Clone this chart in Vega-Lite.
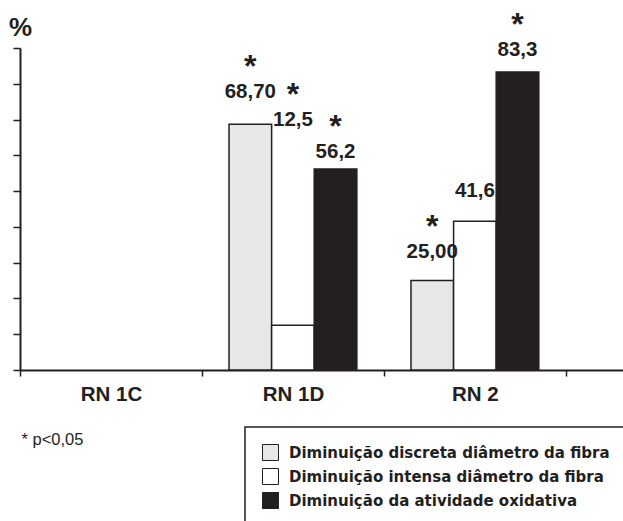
{
  "$schema": "https://vega.github.io/schema/vega-lite/v6.json",
  "width": 603,
  "height": 322,
  "autosize": {"type": "none"},
  "padding": {"left": 20, "top": 48, "right": 0, "bottom": 151},
  "background": "white",
  "config": {
    "view": {"stroke": null},
    "font": "Liberation Sans",
    "axisY": {
      "titleAngle": 0,
      "titleX": 0,
      "titleY": -13,
      "titleAlign": "center",
      "titleBaseline": "alphabetic",
      "titleFontSize": 26,
      "titleFontWeight": "bold",
      "titleColor": "#231f20",
      "labels": false,
      "grid": false,
      "tickSize": 7,
      "tickColor": "#231f20",
      "tickWidth": 1.5,
      "domainColor": "#231f20",
      "domainWidth": 2
    }
  },
  "data": {
    "values": [
      {"group": "RN 1D", "serie": "Diminuição discreta diâmetro da fibra", "value": 68.7, "label": "68,70", "sig": true, "label_level": 77.7},
      {"group": "RN 1D", "serie": "Diminuição intensa diâmetro da fibra", "value": 12.5, "label": "12,5", "sig": true, "label_level": 69.9},
      {"group": "RN 1D", "serie": "Diminuição da atividade oxidativa", "value": 56.2, "label": "56,2", "sig": true, "label_level": 61.0},
      {"group": "RN 2", "serie": "Diminuição discreta diâmetro da fibra", "value": 25.0, "label": "25,00", "sig": true, "label_level": 33.0},
      {"group": "RN 2", "serie": "Diminuição intensa diâmetro da fibra", "value": 41.6, "label": "41,6", "sig": false, "label_level": 50.0},
      {"group": "RN 2", "serie": "Diminuição da atividade oxidativa", "value": 83.3, "label": "83,3", "sig": true, "label_level": 89.4}
    ]
  },
  "encoding": {
    "x": {
      "field": "group",
      "type": "nominal",
      "scale": {"domain": ["RN 1C", "RN 1D", "RN 2"], "paddingInner": 0, "paddingOuter": 0.157, "align": 0},
      "axis": {
        "title": "* p<0,05",
        "labelAngle": 0,
        "labelFontSize": 20.5,
        "labelFontWeight": "bold",
        "labelColor": "#231f20",
        "labelPadding": 8,
        "tickBand": "extent",
        "tickSize": 6,
        "tickColor": "#231f20",
        "tickWidth": 1.5,
        "domainColor": "#231f20",
        "domainWidth": 2,
        "titleX": 1,
        "titleY": 74,
        "titleAlign": "left",
        "titleBaseline": "alphabetic",
        "titleFontWeight": "normal",
        "titleFontSize": 16.5,
        "titleColor": "#231f20"
      }
    },
    "xOffset": {
      "field": "serie",
      "type": "nominal",
      "scale": {
        "domain": ["Diminuição discreta diâmetro da fibra", "Diminuição intensa diâmetro da fibra", "Diminuição da atividade oxidativa"],
        "paddingInner": 0,
        "paddingOuter": 0.635
      }
    }
  },
  "layer": [
    {
      "mark": {"type": "bar", "stroke": "#231f20", "strokeWidth": 1.5},
      "encoding": {
        "y": {
          "field": "value",
          "type": "quantitative",
          "title": "%",
          "scale": {"domain": [0, 90], "nice": false},
          "axis": {"title": "%", "values": [0, 10, 20, 30, 40, 50, 60, 70, 80, 90]}
        },
        "fill": {
          "field": "serie",
          "type": "nominal",
          "scale": {
            "domain": ["Diminuição discreta diâmetro da fibra", "Diminuição intensa diâmetro da fibra", "Diminuição da atividade oxidativa"],
            "range": ["#e6e7e8", "#ffffff", "#231f20"]
          },
          "legend": {
            "title": null,
            "orient": "none",
            "legendX": 225,
            "legendY": 379,
            "padding": 17,
            "strokeColor": "#231f20",
            "fillColor": "white",
            "symbolType": "square",
            "symbolSize": 256,
            "symbolStrokeColor": "#231f20",
            "symbolStrokeWidth": 1,
            "labelFont": "DejaVu Sans",
            "labelFontSize": 15,
            "labelFontWeight": "bold",
            "labelColor": "#231f20",
            "labelOffset": 10,
            "rowPadding": 3,
            "labelLimit": 0,
            "encode": {"legend": {"update": {"strokeWidth": {"value": 1.5}}}}
          }
        }
      }
    },
    {
      "mark": {"type": "text", "fontSize": 20.5, "fontWeight": "bold", "color": "#231f20", "baseline": "middle"},
      "encoding": {
        "y": {"field": "label_level", "type": "quantitative", "title": "%", "axis": {"title": "%", "values": [0, 10, 20, 30, 40, 50, 60, 70, 80, 90]}},
        "text": {"field": "label"}
      }
    },
    {
      "transform": [{"filter": "datum.sig"}],
      "mark": {"type": "text", "text": "*", "fontSize": 32, "fontWeight": "bold", "baseline": "alphabetic", "dy": -15, "color": "#231f20"},
      "encoding": {
        "y": {"field": "label_level", "type": "quantitative", "title": "%", "axis": {"title": "%", "values": [0, 10, 20, 30, 40, 50, 60, 70, 80, 90]}}
      }
    }
  ]
}
